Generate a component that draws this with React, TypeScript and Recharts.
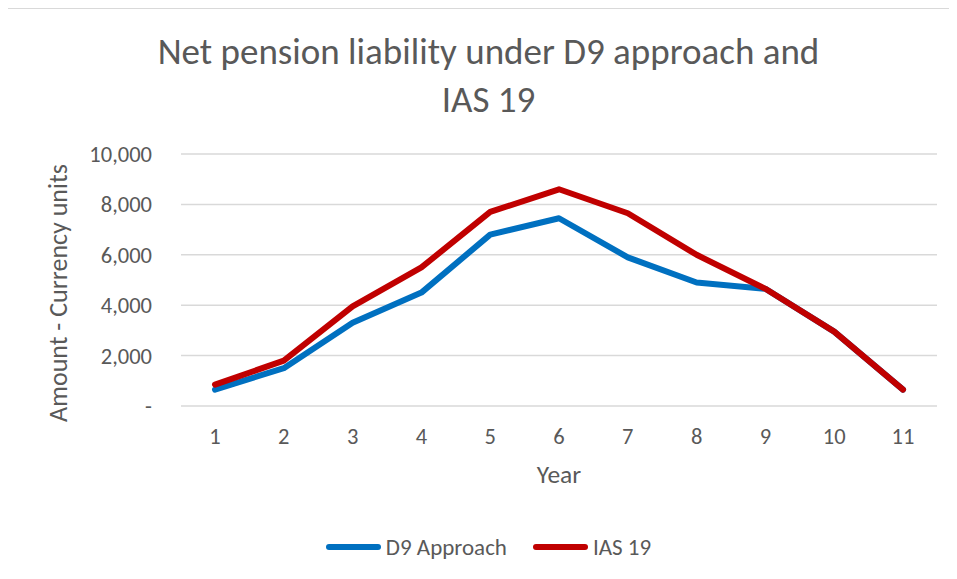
import React from 'react'
import {
  LineChart, Line, XAxis, YAxis, CartesianGrid, Legend,
} from 'recharts'

const years = ['1', '2', '3', '4', '5', '6', '7', '8', '9', '10', '11']
const d9Approach = [650, 1500, 3300, 4500, 6800, 7450, 5900, 4900, 4650, 2950, 650]
const ias19 = [850, 1800, 3950, 5500, 7700, 8600, 7650, 6000, 4650, 2950, 650]
const yTicks = [0, 2000, 4000, 6000, 8000, 10000]

const FONT = 'Carlito, Calibri, Lato, sans-serif'
const TEXT = '#595959'
const BLUE = '#0070C0'
const RED = '#C00000'

const data = years.map((y, i) => ({ year: y, d9: d9Approach[i], ias: ias19[i] }))

const fmt = (v: number) => (v === 0 ? '-' : v.toLocaleString('en-US'))

function YLabel(props: any) {
  const vb = props.viewBox || {}
  const x = vb.x + 50
  const y = vb.y + vb.height / 2 + 13
  return (
    <text
      x={x}
      y={y}
      transform={`rotate(-90, ${x}, ${y})`}
      textAnchor="middle"
      dominantBaseline="central"
      fill={TEXT}
      fontSize={26}
      fontFamily={FONT}
    >
      Amount - Currency units
    </text>
  )
}

function LegendBox() {
  const items = [
    { label: 'D9 Approach', color: BLUE },
    { label: 'IAS 19', color: RED },
  ]
  return (
    <div style={{ display: 'flex', justifyContent: 'center', alignItems: 'center', gap: 26, marginLeft: 12, height: 24 }}>
      {items.map(it => (
        <span key={it.label} style={{ display: 'flex', alignItems: 'center', gap: 5 }}>
          <span style={{ width: 55, height: 6, borderRadius: 3, background: it.color, display: 'inline-block' }} />
          <span style={{ fontFamily: FONT, fontSize: 23, color: TEXT }}>{it.label}</span>
        </span>
      ))}
    </div>
  )
}

export default function App() {
  return (
    <div style={{ position: 'relative', width: 949, height: 571, overflow: 'hidden', borderLeft: '1px solid #D9D9D9', borderTop: '1px solid #D9D9D9', marginLeft: -1, background: '#fff' }}>
      <div style={{ position: 'absolute', left: 0, top: 19, width: 961, textAlign: 'center', fontFamily: FONT, fontSize: 37, lineHeight: '48px', color: TEXT }}>
        Net pension liability under D9 approach and<br />IAS 19
      </div>
      <LineChart width={949} height={571} data={data} margin={{ top: 145, right: 20, bottom: 94, left: 0 }}>
        <CartesianGrid horizontal vertical={false} stroke="#D9D9D9" strokeWidth={1.5} />
        <XAxis
          dataKey="year"
          height={80}
          padding={{ left: 34, right: 34 }}
          axisLine={false}
          tickLine={false}
          tickSize={0}
          tickMargin={22}
          tick={{ fill: TEXT, fontSize: 22.5, fontFamily: FONT }}
          label={{ value: 'Year', position: 'insideBottom', offset: 3, fill: TEXT, fontSize: 25.5, fontFamily: FONT }}
        />
        <YAxis
          width={173}
          domain={[0, 10000]}
          ticks={yTicks}
          axisLine={false}
          tickLine={false}
          tickSize={0}
          tickMargin={29}
          tickFormatter={fmt}
          tick={{ fill: TEXT, fontSize: 22.5, fontFamily: FONT }}
          label={<YLabel />}
        />
        <Legend verticalAlign="middle" layout="horizontal" wrapperStyle={{ top: 526, left: 0, width: 949 }} content={<LegendBox />} />
        <Line dataKey="d9" name="D9 Approach" stroke={BLUE} strokeWidth={6} strokeLinecap="round" strokeLinejoin="round" dot={false} isAnimationActive={false} />
        <Line dataKey="ias" name="IAS 19" stroke={RED} strokeWidth={6} strokeLinecap="round" strokeLinejoin="round" dot={false} isAnimationActive={false} />
      </LineChart>
    </div>
  )
}
